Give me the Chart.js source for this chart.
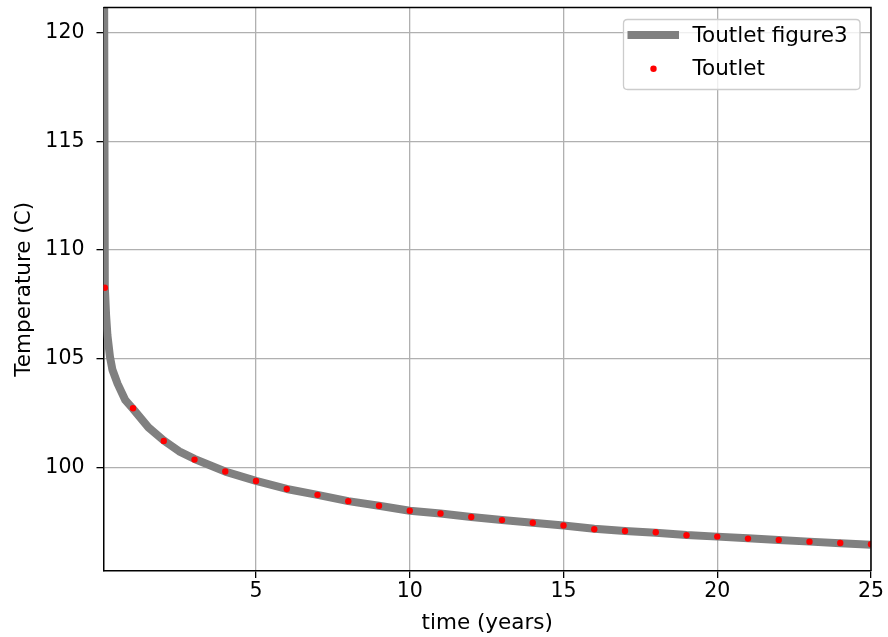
<!DOCTYPE html>
<html><head><meta charset="utf-8">
<script src="https://cdn.jsdelivr.net/npm/chart.js@4/dist/chart.umd.min.js"></script>
<style>html,body{margin:0;padding:0;background:#fff}#wrap{width:888px;height:637px}</style>
</head><body><div id="wrap"><canvas id="c" width="888" height="637"></canvas></div>
<script>
// Reference curve ("Toutlet figure3")
const figTimes = [0.04,0.083,0.125,0.167,0.25,0.33,0.5,0.75,1,1.5,2,2.5,3,4,5,6,7,8,9,10,11,12,13,14,15,16,17,18,19,20,21,22,23,24,25];
const figTemps = [135,108.3,107.0,106.1,105.1,104.5,103.85,103.1,102.7,101.85,101.25,100.75,100.4,99.82,99.39,99.02,98.75,98.46,98.25,98.02,97.89,97.73,97.59,97.47,97.34,97.19,97.09,97.01,96.9,96.83,96.75,96.67,96.6,96.53,96.46];
// Simulated points ("Toutlet")
const simTimes = [0.083,1,2,3,4,5,6,7,8,9,10,11,12,13,14,15,16,17,18,19,20,21,22,23,24,25];
const simTemps = [108.27,102.73,101.23,100.37,99.82,99.39,99.02,98.75,98.46,98.25,98.02,97.89,97.73,97.59,97.47,97.34,97.17,97.09,97.03,96.89,96.83,96.74,96.68,96.6,96.54,96.48];
const xTicks = [5,10,15,20,25];
const yTicks = [100,105,110,115,120];
const seriesLabels = ['Toutlet figure3','Toutlet'];

const TICKFONT = {family:'DejaVu Sans', size:20.5};
const TITLEFONT = {family:'DejaVu Sans', size:21.5};

const framePlugin = {
  id:'frame',
  afterDatasetsDraw(chart){
    const a = chart.chartArea, ctx = chart.ctx;
    ctx.save();
    ctx.strokeStyle = '#000'; ctx.lineWidth = 1.5;
    ctx.beginPath();
    ctx.moveTo(a.left, a.top); ctx.lineTo(a.right, a.top); ctx.lineTo(a.right, a.bottom);
    ctx.stroke();
    ctx.restore();
  }
};
const legendPlugin = {
  id:'mplLegend',
  afterDraw(chart){
    const ctx = chart.ctx;
    const x0=623.5, y0=19.5, w=236.5, h=70, r=4;
    ctx.save();
    ctx.beginPath();
    ctx.moveTo(x0+r,y0); ctx.lineTo(x0+w-r,y0); ctx.quadraticCurveTo(x0+w,y0,x0+w,y0+r);
    ctx.lineTo(x0+w,y0+h-r); ctx.quadraticCurveTo(x0+w,y0+h,x0+w-r,y0+h);
    ctx.lineTo(x0+r,y0+h); ctx.quadraticCurveTo(x0,y0+h,x0,y0+h-r);
    ctx.lineTo(x0,y0+r); ctx.quadraticCurveTo(x0,y0,x0+r,y0); ctx.closePath();
    ctx.fillStyle='rgba(255,255,255,0.8)'; ctx.fill();
    ctx.strokeStyle='#cccccc'; ctx.lineWidth=1.3; ctx.stroke();
    ctx.strokeStyle='#808080'; ctx.lineWidth=8;
    ctx.beginPath(); ctx.moveTo(627.5,35); ctx.lineTo(679,35); ctx.stroke();
    ctx.fillStyle='red'; ctx.beginPath(); ctx.arc(653.5,68.7,3.2,0,Math.PI*2); ctx.fill();
    ctx.fillStyle='#000'; ctx.font='21.5px "DejaVu Sans"'; ctx.textBaseline='middle'; ctx.textAlign='left';
    ctx.fillText(seriesLabels[0],692.5,36);
    ctx.fillText(seriesLabels[1],692.5,69);
    ctx.restore();
  }
};

new Chart(document.getElementById('c'), {
  type:'line',
  data:{
    datasets:[
      {label:seriesLabels[1], data:simTimes.map((t,i)=>({x:t,y:simTemps[i]})), showLine:false,
       pointRadius:3.2, pointBackgroundColor:'red', pointBorderWidth:0, order:0, clip:0},
      {label:seriesLabels[0], data:figTimes.map((t,i)=>({x:t,y:figTemps[i]})), borderColor:'#808080',
       borderWidth:8, pointRadius:0, tension:0, fill:false, order:1, clip:0, borderJoinStyle:'round'}
    ]
  },
  options:{
    responsive:false, animation:false, devicePixelRatio:1,
    layout:{padding:{left:0, right:17, top:7.5, bottom:0}},
    plugins:{legend:{display:false}, tooltip:{enabled:false}},
    scales:{
      x:{type:'linear', min:0.04, max:25,
         afterBuildTicks(s){ s.ticks = xTicks.map(v=>({value:v})); },
         afterFit(s){ s.height = 66; s.paddingLeft = 0; s.paddingRight = 0; },
         grid:{color:'#b0b0b0', lineWidth:1.3, tickColor:'#000', tickLength:7, drawTicks:true},
         border:{display:true, color:'#000', width:1.5},
         ticks:{color:'#000', font:TICKFONT, padding:1, maxRotation:0, autoSkip:false},
         title:{display:true, text:'time (years)', color:'#000', font:TITLEFONT, padding:{top:0,bottom:1}}
      },
      y:{type:'linear', min:95.25, max:121.15,
         afterBuildTicks(s){ s.ticks = yTicks.map(v=>({value:v})); },
         afterFit(s){ s.width = 103.5; s.paddingTop = 0; s.paddingBottom = 0; },
         grid:{color:'#b0b0b0', lineWidth:1.3, tickColor:'#000', tickLength:7, drawTicks:true},
         border:{display:true, color:'#000', width:1.5},
         ticks:{color:'#000', font:TICKFONT, padding:12, autoSkip:false},
         title:{display:true, text:'Temperature (C)', color:'#000', font:TITLEFONT, padding:{top:12,bottom:0}}
      }
    }
  },
  plugins:[framePlugin, legendPlugin]
});
</script>
</body></html>
